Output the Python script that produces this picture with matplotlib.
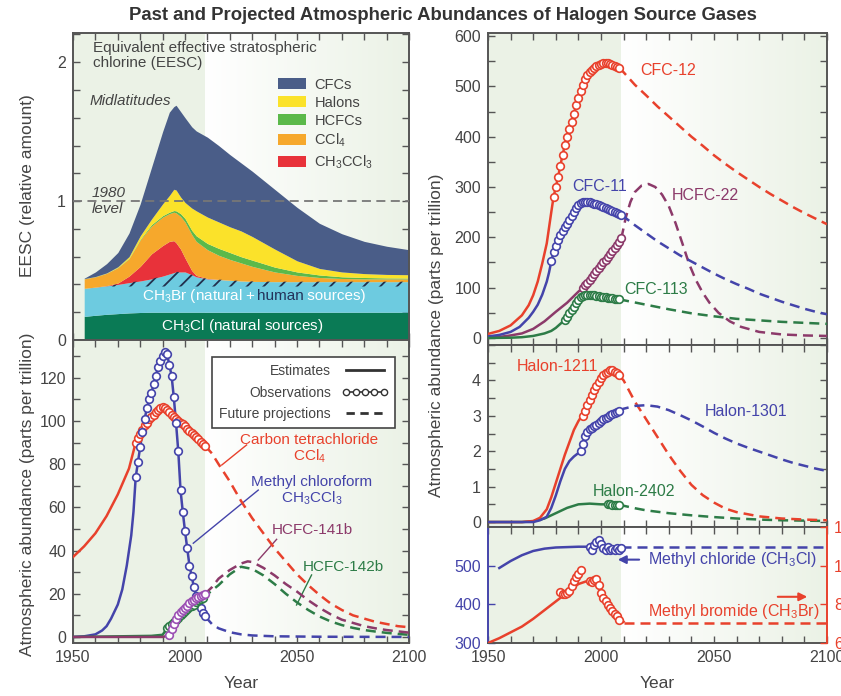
import numpy as np
import matplotlib
matplotlib.use("Agg")
import matplotlib.pyplot as plt
from matplotlib.lines import Line2D
from matplotlib.patches import Patch
from matplotlib.ticker import MultipleLocator
from matplotlib.colors import to_rgb

plt.rcParams['font.family'] = ['Liberation Sans', 'DejaVu Sans']
plt.rcParams['mathtext.default'] = 'regular'
plt.rcParams['hatch.linewidth'] = 1.3

RED = '#e8412c'
BLUE = '#4444aa'
MAROON = '#8c3a6a'
PURPLE = '#9c50b4'
GREEN = '#2d7c47'
AXC = '#555555'
TXT = '#444444'
PAST = '#ebf2e6'
DASH = (0, (4, 2.4))

# ---------------- EESC (cumulative tops of each layer) ----------------
eesc_years = [1955, 1960, 1965, 1970, 1975, 1980, 1985, 1990, 1993, 1995, 1996, 1998, 2000,
              2003, 2005, 2010, 2015, 2020, 2025, 2030, 2040, 2050, 2060, 2070, 2080, 2090, 2100]
ch3cl_top = [0.170, 0.178, 0.185, 0.190, 0.195, 0.198, 0.200, 0.200, 0.200, 0.200, 0.200, 0.200, 0.200,
             0.200, 0.200, 0.200, 0.200, 0.200, 0.200, 0.200, 0.200, 0.200, 0.200, 0.200, 0.200, 0.200, 0.200]
ch3br_natural = 0.385
ch3br_top = [0.372, 0.380, 0.390, 0.400, 0.413, 0.425, 0.440, 0.460, 0.475, 0.485, 0.490, 0.490, 0.490,
             0.470, 0.455, 0.440, 0.435, 0.430, 0.425, 0.422, 0.420, 0.420, 0.420, 0.420, 0.420, 0.420, 0.420]
ch3ccl3_top = [0.372, 0.381, 0.392, 0.410, 0.460, 0.530, 0.620, 0.680, 0.710, 0.715, 0.700, 0.655, 0.590,
               0.500, 0.465, 0.443, 0.436, 0.430, 0.425, 0.422, 0.420, 0.420, 0.420, 0.420, 0.420, 0.420, 0.420]
ccl4_top = [0.440, 0.455, 0.480, 0.520, 0.585, 0.720, 0.820, 0.885, 0.910, 0.920, 0.915, 0.890, 0.850,
            0.760, 0.710, 0.650, 0.610, 0.580, 0.555, 0.530, 0.490, 0.465, 0.450, 0.443, 0.440, 0.440, 0.440]
hcfc_top = [0.441, 0.456, 0.481, 0.522, 0.588, 0.725, 0.830, 0.895, 0.920, 0.932, 0.930, 0.910, 0.875,
            0.790, 0.750, 0.695, 0.660, 0.630, 0.600, 0.575, 0.525, 0.490, 0.468, 0.455, 0.450, 0.447, 0.446]
halon_top = [0.442, 0.457, 0.483, 0.527, 0.600, 0.750, 0.870, 0.980, 1.040, 1.085, 1.080, 1.030, 0.990,
             0.950, 0.930, 0.885, 0.850, 0.815, 0.785, 0.745, 0.655, 0.570, 0.515, 0.490, 0.478, 0.472, 0.470]
cfc_top = [0.445, 0.490, 0.550, 0.630, 0.770, 0.980, 1.240, 1.500, 1.640, 1.680, 1.690, 1.645, 1.600,
           1.535, 1.505, 1.460, 1.400, 1.335, 1.275, 1.215, 1.085, 0.955, 0.840, 0.765, 0.710, 0.675, 0.650]

# ---------------- chlorine gases (ppt) ----------------
ccl4_est_yr = [1950, 1955, 1960, 1965, 1970, 1975, 1978]
ccl4_est = [37, 42, 48, 56, 66, 78, 90]
ccl4_obs_start = 1978
ccl4_obs = [90, 92, 94, 96, 98, 99, 101, 102, 103, 104, 105, 106, 106.5, 106, 105, 104, 103, 102,
            101, 100, 99, 98.5, 97.5, 96.5, 95.5, 94.5, 93.5, 92.5, 91.5, 90.5, 89.5, 88.5]
ccl4_proj_yr = [2009, 2012, 2015, 2020, 2025, 2030, 2035, 2040, 2045, 2050, 2055, 2060, 2065, 2070,
                2075, 2080, 2085, 2090, 2095, 2100]
ccl4_proj = [88.5, 85, 80, 72, 63, 55, 48, 41, 35, 29, 24, 19.5, 15.5, 12.5, 10, 8.5, 7, 6, 5, 4.5]

mcf_est_yr = [1950, 1955, 1960, 1963, 1965, 1967, 1970, 1972, 1974, 1976, 1977]
mcf_est = [0, 0.3, 1.2, 3, 5, 8.5, 15, 22, 33, 47, 58]
mcf_obs_start = 1978
mcf_obs = [74, 81, 88, 95, 101, 106, 110, 113, 117, 121, 125, 128, 130, 132, 131, 126, 121, 111,
           99, 86, 68, 58, 49, 41, 33, 28, 23, 19, 16, 13.5, 11, 9.5]
mcf_proj_yr = [2009, 2012, 2015, 2020, 2025, 2030, 2040, 2060, 2100]
mcf_proj = [9.5, 6, 4, 2.2, 1.2, 0.7, 0.3, 0.1, 0]

h141b_est_yr = [1950, 1990, 1992]
h141b_est = [0, 0, 0.5]
h141b_obs_start = 1993
h141b_obs = [1, 3.5, 6, 8.5, 10, 11.5, 12.5, 13.5, 14.5, 15.5, 16.5, 17, 18, 18.5, 19, 19.5, 20]
h141b_proj_yr = [2009, 2012, 2015, 2020, 2025, 2028, 2030, 2035, 2040, 2045, 2050, 2055, 2060, 2065,
                 2070, 2075, 2080, 2085, 2090, 2095, 2100]
h141b_proj = [20, 23, 27, 31, 34, 35, 34.7, 32, 28.5, 24.5, 21, 17, 13.5, 10.5, 8, 6.5, 5, 4, 3.2,
              2.6, 2]

h142b_est_yr = [1950, 1985, 1990, 1991]
h142b_est = [0, 0.5, 1, 2.5]
h142b_obs_start = 1992
h142b_obs = [4, 5, 6, 7, 8, 9, 10, 11, 12, 13, 14, 14.5, 15, 16, 17, 17.5, 18]
h142b_proj_yr = [2008, 2012, 2015, 2020, 2025, 2030, 2035, 2040, 2045, 2050, 2055, 2060, 2065, 2070,
                 2075, 2080, 2085, 2090, 2095, 2100]
h142b_proj = [18, 21.5, 24, 29, 32.5, 31.5, 28.5, 24.5, 20, 16, 12.5, 9.5, 7.2, 5.5, 4.2, 3.2, 2.5,
              1.9, 1.4, 1]

# ---------------- CFCs and HCFC-22 (ppt) ----------------
cfc12_est_yr = [1950, 1955, 1960, 1965, 1968, 1970, 1972, 1974, 1976, 1978]
cfc12_est = [8, 14, 25, 45, 65, 85, 112, 148, 188, 250]
cfc12_obs_start = 1979
cfc12_obs = [280, 300, 320, 342, 364, 383, 400, 415, 430, 446, 462, 476, 490, 503, 515, 523, 529,
             533, 536, 540, 543, 545, 546, 546, 546, 545, 543, 541, 539, 537]
cfc12_proj_yr = [2008, 2010, 2015, 2020, 2025, 2030, 2035, 2040, 2045, 2050, 2055, 2060, 2065, 2070,
                 2075, 2080, 2085, 2090, 2095, 2100]
cfc12_proj = [537, 528, 503, 482, 460, 440, 420, 400, 382, 363, 346, 330, 315, 300, 286, 273, 260,
              248, 237, 226]

cfc11_est_yr = [1950, 1955, 1960, 1964, 1968, 1970, 1972, 1974, 1976, 1977]
cfc11_est = [3, 6, 12, 22, 40, 52, 66, 86, 112, 130]
cfc11_obs_start = 1978
cfc11_obs = [152, 170, 183, 194, 204, 212, 220, 227, 235, 243, 250, 258, 264, 268, 270, 271, 271,
             270, 269, 267, 266, 264, 262, 261, 259, 257, 255, 253, 251, 249, 247, 245]
cfc11_proj_yr = [2009, 2015, 2020, 2025, 2030, 2035, 2040, 2045, 2050, 2055, 2060, 2065, 2070, 2075,
                 2080, 2085, 2090, 2095, 2100]
cfc11_proj = [245, 224, 208, 192, 178, 164, 152, 140, 128, 117, 107, 98, 88, 80, 72, 65, 58, 52, 47]

hcfc22_est_yr = [1950, 1955, 1960, 1965, 1970, 1975, 1980, 1985, 1990, 1991]
hcfc22_est = [0, 2, 5, 9, 18, 33, 52, 70, 92, 96]
hcfc22_obs_start = 1992
hcfc22_obs = [100, 105, 110, 116, 122, 128, 134, 140, 145, 150, 155, 160, 166, 172, 178, 185, 191, 198]
hcfc22_proj_yr = [2009, 2011, 2013, 2015, 2018, 2021, 2024, 2027, 2030, 2033, 2036, 2039, 2042, 2045,
                  2048, 2052, 2057, 2062, 2070, 2080, 2090, 2100]
hcfc22_proj = [198, 240, 270, 290, 303, 306, 300, 285, 262, 228, 188, 147, 115, 90, 70, 50, 33, 22,
               12, 7, 5, 4]

cfc113_est_yr = [1950, 1960, 1965, 1970, 1975, 1978, 1980, 1982, 1983]
cfc113_est = [0, 0.5, 1.5, 4, 9, 14, 20, 28, 32]
cfc113_obs_start = 1984
cfc113_obs = [36, 42, 49, 56, 62, 69, 76, 81, 84, 85.5, 86, 86, 85.5, 85, 84, 83, 82, 81, 80.5, 80,
              79, 78.5, 78, 77, 76.5]
cfc113_proj_yr = [2008, 2010, 2020, 2030, 2040, 2050, 2060, 2070, 2080, 2090, 2100]
cfc113_proj = [76.5, 75, 66, 57, 49, 43, 38, 35, 32, 30, 28]

# ---------------- halons (ppt) ----------------
h1211_est_yr = [1950, 1965, 1970, 1973, 1976, 1978, 1980, 1982, 1984, 1986, 1988, 1990, 1991]
h1211_est = [0, 0, 0.03, 0.12, 0.36, 0.7, 1.1, 1.5, 1.9, 2.25, 2.6, 2.85, 2.95]
h1211_obs_start = 1992
h1211_obs = [3.0, 3.15, 3.3, 3.45, 3.6, 3.73, 3.85, 3.96, 4.06, 4.14, 4.2, 4.25, 4.28, 4.28, 4.25,
             4.2, 4.14]
h1211_proj_yr = [2008, 2010, 2015, 2020, 2025, 2030, 2035, 2040, 2045, 2050, 2055, 2060, 2070, 2080,
                 2090, 2100]
h1211_proj = [4.14, 4.0, 3.4, 2.9, 2.4, 1.9, 1.45, 1.05, 0.76, 0.55, 0.38, 0.28, 0.16, 0.1, 0.07, 0.05]

h1301_est_yr = [1950, 1970, 1973, 1976, 1978, 1980, 1982, 1984, 1986, 1988, 1990]
h1301_est = [0, 0, 0.05, 0.15, 0.4, 0.75, 1.15, 1.5, 1.72, 1.85, 1.95]
h1301_obs_start = 1991
h1301_obs = [2.0, 2.2, 2.42, 2.55, 2.62, 2.66, 2.7, 2.74, 2.8, 2.86, 2.9, 2.95, 2.98, 3.02, 3.05,
             3.08, 3.12, 3.15]
h1301_proj_yr = [2008, 2010, 2015, 2020, 2025, 2030, 2035, 2040, 2045, 2050, 2055, 2060, 2065, 2070,
                 2075, 2080, 2085, 2090, 2095, 2100]
h1301_proj = [3.15, 3.2, 3.28, 3.3, 3.26, 3.16, 3.02, 2.87, 2.7, 2.52, 2.36, 2.22, 2.1, 1.99, 1.88,
              1.77, 1.67, 1.59, 1.51, 1.44]

h2402_est_yr = [1950, 1965, 1970, 1975, 1980, 1985, 1990, 1995, 2000, 2002]
h2402_est = [0, 0, 0.02, 0.1, 0.25, 0.4, 0.5, 0.52, 0.5, 0.5]
h2402_obs_start = 2003
h2402_obs = [0.5, 0.5, 0.49, 0.49, 0.48, 0.48]
h2402_proj_yr = [2008, 2010, 2015, 2020, 2030, 2040, 2050, 2060, 2070, 2080, 2090, 2100]
h2402_proj = [0.48, 0.46, 0.39, 0.33, 0.25, 0.19, 0.14, 0.1, 0.07, 0.05, 0.04, 0.03]

# ---------------- methyl chloride (ppt) and methyl bromide (ppt) ----------------
mecl_est_yr = [1955, 1960, 1965, 1970, 1975, 1980, 1990, 2009]
mecl_est = [494, 512, 527, 538, 544, 547, 549, 549]
mecl_obs_start = 1995
mecl_obs = [548, 540, 553, 560, 566, 556, 545, 540, 548, 541, 543, 540, 545, 541, 545]
mecl_proj_yr = [2009, 2100]
mecl_proj = [549, 549]

mebr_est_yr = [1950, 1955, 1960, 1965, 1970, 1975, 1980, 1985, 1990, 1995, 1997, 2000, 2005, 2010]
mebr_est = [6.0, 6.25, 6.55, 6.85, 7.25, 7.7, 8.15, 8.6, 9.05, 9.25, 9.25, 8.6, 7.7, 7.1]
mebr_obs1_start = 1982
mebr_obs1 = [8.65, 8.55, 8.55, 8.6, 8.7, 8.95, 9.2, 9.4, 9.55, 9.8]
mebr_obs2_start = 1995
mebr_obs2 = [9.2, 9.15, 9.25, 9.3, 9.0, 8.6, 8.35, 8.15, 7.95, 7.8, 7.65, 7.5, 7.4, 7.2]
mebr_proj_yr = [2010, 2100]
mebr_proj = [7.05, 7.05]


def obs_years(start, vals):
    return list(range(start, start + len(vals)))


def background(ax, y0, y1):
    # shaded past period, then a fade from white back to pale green
    ax.axvspan(1950, 2009, color=PAST, lw=0, zorder=0)
    g = np.linspace(0, 1, 256)[:, None]
    img = (1 - g) * np.array([1.0, 1.0, 1.0]) + g * np.array(to_rgb(PAST))
    ax.imshow(img[None, :, :], extent=[2009, 2100, y0, y1], aspect='auto',
              interpolation='bilinear', zorder=0)
    ax.set_xlim(1950, 2100)
    ax.set_ylim(y0, y1)


def style(ax, xlabels=False):
    for s in ax.spines.values():
        s.set_color(AXC)
        s.set_linewidth(1.4)
    ax.xaxis.set_major_locator(MultipleLocator(50))
    ax.xaxis.set_minor_locator(MultipleLocator(10))
    ax.tick_params(which='both', direction='in', top=True, right=True, length=5, width=1,
                   color=AXC, labelsize=11.5, labelcolor=TXT, pad=5)
    if xlabels:
        ax.set_xticks([1950, 2000, 2050, 2100])
        ax.set_xticklabels(['1950', '2000', '2050', '2100'])
        ax.set_xlabel('Year', fontsize=12.5, color=TXT, labelpad=8)
    else:
        ax.tick_params(labelbottom=False)


def gas(ax, est_yr, est, obs_start, obs, proj_yr, proj, color, obs_color=None):
    oy = obs_years(obs_start, obs)
    ax.plot(list(est_yr) + oy, list(est) + list(obs), color=color, lw=1.8, zorder=3)
    ax.plot(proj_yr, proj, color=color, lw=1.8, ls=DASH, zorder=3)
    ax.plot(oy, obs, 'o', ms=5.5, mfc='white', mec=obs_color or color, mew=1.2, zorder=4)


fig = plt.figure(figsize=(8.41, 6.96), dpi=100)
W, H = 841.0, 696.0


def px_axes(x0, y0, x1, y1):
    return fig.add_axes([x0 / W, 1 - y1 / H, (x1 - x0) / W, (y1 - y0) / H])


ax_eesc = px_axes(73, 33, 409, 340)
ax_cl = px_axes(73, 340, 409, 643)
ax_cfc = px_axes(488, 33, 827, 345)
ax_hal = px_axes(488, 345, 827, 527)
ax_me = px_axes(488, 527, 827, 643)

fig.text(443 / W, 1 - 15 / H, 'Past and Projected Atmospheric Abundances of Halogen Source Gases',
         ha='center', va='center', fontsize=13.3, fontweight='bold', color='#333333')

# ---------------- EESC stack ----------------
ax = ax_eesc
background(ax, 0, 2.21)
yrs = np.array(eesc_years)
layers = [
    (np.zeros(len(yrs)), ch3cl_top, '#0a7a55'),
    (ch3cl_top, ch3br_top, '#6dcbe0'),
    (ch3br_top, ch3ccl3_top, '#e8323a'),
    (ch3ccl3_top, ccl4_top, '#f6a82c'),
    (ccl4_top, hcfc_top, '#5bb94a'),
    (hcfc_top, halon_top, '#fbe22a'),
    (halon_top, cfc_top, '#4a5d88'),
]
for lo, hi, c in layers:
    ax.fill_between(yrs, lo, hi, color=c, lw=0, zorder=2)
top_br = np.array(ch3br_top)
ax.fill_between(yrs, ch3br_natural, top_br, where=top_br > ch3br_natural, interpolate=True,
                facecolor='none', edgecolor='#22304d', hatch='//', lw=0, zorder=2.5)
ax.axhline(1.0, color='#777777', lw=1.3, ls=(0, (5, 3)), zorder=3)

ax.set_yticks([0, 1, 2])
ax.set_yticklabels(['0', '1', '2'])
ax.yaxis.set_minor_locator(MultipleLocator(0.2))
style(ax)
ax.text(1958.9, 2.15, 'Equivalent effective stratospheric\nchlorine (EESC)', fontsize=11,
        color=TXT, va='top', ha='left', linespacing=1.1)
ax.text(1957.6, 1.72, 'Midlatitudes', fontsize=11, style='italic', color=TXT, va='center')
ax.text(1958.5, 1.0, '1980\nlevel', fontsize=11, style='italic', color=TXT, va='center',
        linespacing=1.25)
eesc_labels = ['CFCs', 'Halons', 'HCFCs', 'CCl$_4$', 'CH$_3$CCl$_3$']
eesc_colors = ['#4a5d88', '#fbe22a', '#5bb94a', '#f6a82c', '#e8323a']
leg = ax.legend([Patch(facecolor=c, edgecolor='none') for c in eesc_colors], eesc_labels,
                loc='upper left', bbox_to_anchor=(0.61, 0.855), frameon=False, fontsize=10.5,
                handlelength=1.9, handleheight=0.75, handletextpad=0.6, labelspacing=0.28,
                borderpad=0, borderaxespad=0)
for t in leg.get_texts():
    t.set_color(TXT)

# CH3Br label, with "human" picked out in dark blue
fig.canvas.draw()
rend = fig.canvas.get_renderer()
x_pos = 1980.7
pieces = [('CH$_3$Br (natural + ', 'white'), ('human', '#23325a'), (' sources)', 'white')]
for s, c in pieces:
    t = ax.text(x_pos, 0.29, s, color=c, fontsize=11, va='baseline', ha='left', zorder=5)
    bb = t.get_window_extent(rend)
    x_pos = ax.transData.inverted().transform((bb.x1, bb.y0))[0]
ax.text(2025.4, 0.10, 'CH$_3$Cl (natural sources)', color='white', fontsize=11, ha='center',
        va='center', zorder=5)

# ---------------- chlorine gases ----------------
ax = ax_cl
background(ax, -2.8, 137.5)
gas(ax, ccl4_est_yr, ccl4_est, ccl4_obs_start, ccl4_obs, ccl4_proj_yr, ccl4_proj, RED)
gas(ax, mcf_est_yr, mcf_est, mcf_obs_start, mcf_obs, mcf_proj_yr, mcf_proj, BLUE)
gas(ax, h142b_est_yr, h142b_est, h142b_obs_start, h142b_obs, h142b_proj_yr, h142b_proj, GREEN)
gas(ax, h141b_est_yr, h141b_est, h141b_obs_start, h141b_obs, h141b_proj_yr, h141b_proj, MAROON,
    obs_color=PURPLE)
ax.yaxis.set_major_locator(MultipleLocator(20))
ax.yaxis.set_minor_locator(MultipleLocator(10))
style(ax, xlabels=True)

ax.text(2055.4, 87, 'Carbon tetrachloride\nCCl$_4$', color=RED, fontsize=11, ha='center',
        va='center', linespacing=1.05)
ax.plot([2027.5, 2016.4], [88.9, 79.6], color=RED, lw=1)
ax.text(2056.7, 67.6, 'Methyl chloroform\nCH$_3$CCl$_3$', color=BLUE, fontsize=11, ha='center',
        va='center', linespacing=1.05)
ax.plot([2032.7, 2003.7], [68, 43.4], color=BLUE, lw=1)
ax.text(2057, 49.5, 'HCFC-141b', color=MAROON, fontsize=11, ha='center', va='center')
ax.plot([2040.9, 2032.7], [45.2, 35.6], color=MAROON, lw=1)
ax.text(2070.5, 32.4, 'HCFC-142b', color=GREEN, fontsize=11, ha='center', va='center')
ax.plot([2056.5, 2049.8], [28.7, 14.8], color=GREEN, lw=1)

handles = [Line2D([], [], color='#333333', lw=2),
           Line2D([], [], color='#333333', lw=1.2, marker='o', ms=4.5, mfc='white', mec='#333333'),
           Line2D([], [], color='#333333', lw=2, ls=(0, (3, 2)))]
leg = ax.legend(handles, ['Estimates', 'Observations', 'Future projections'], loc='upper right',
                bbox_to_anchor=(0.958, 0.944), markerfirst=False, numpoints=5, handlelength=3.3,
                fontsize=10, frameon=True, fancybox=False, edgecolor='#444444', framealpha=1,
                facecolor='white', borderpad=0.5, labelspacing=0.55, borderaxespad=0)
leg.get_frame().set_linewidth(1.2)
for t in leg.get_texts():
    t.set_color(TXT)

# ---------------- CFCs ----------------
ax = ax_cfc
background(ax, -14, 606)
gas(ax, cfc12_est_yr, cfc12_est, cfc12_obs_start, cfc12_obs, cfc12_proj_yr, cfc12_proj, RED)
gas(ax, hcfc22_est_yr, hcfc22_est, hcfc22_obs_start, hcfc22_obs, hcfc22_proj_yr, hcfc22_proj,
    MAROON)
gas(ax, cfc11_est_yr, cfc11_est, cfc11_obs_start, cfc11_obs, cfc11_proj_yr, cfc11_proj, BLUE)
gas(ax, cfc113_est_yr, cfc113_est, cfc113_obs_start, cfc113_obs, cfc113_proj_yr, cfc113_proj,
    GREEN)
ax.yaxis.set_major_locator(MultipleLocator(100))
ax.yaxis.set_minor_locator(MultipleLocator(50))
style(ax)
ax.text(2017.3, 531, 'CFC-12', color=RED, fontsize=11.5, va='center')
ax.text(1987.2, 300, 'CFC-11', color=BLUE, fontsize=11.5, va='center')
ax.text(2031.4, 284, 'HCFC-22', color=MAROON, fontsize=11.5, va='center')
ax.text(2010.2, 97, 'CFC-113', color=GREEN, fontsize=11.5, va='center')

# ---------------- halons ----------------
ax = ax_hal
background(ax, -0.14, 5.0)
gas(ax, h2402_est_yr, h2402_est, h2402_obs_start, h2402_obs, h2402_proj_yr, h2402_proj, GREEN)
gas(ax, h1211_est_yr, h1211_est, h1211_obs_start, h1211_obs, h1211_proj_yr, h1211_proj, RED)
gas(ax, h1301_est_yr, h1301_est, h1301_obs_start, h1301_obs, h1301_proj_yr, h1301_proj, BLUE)
ax.set_yticks([0, 1, 2, 3, 4])
ax.yaxis.set_minor_locator(MultipleLocator(0.5))
style(ax)
ax.text(1962.8, 4.39, 'Halon-1211', color=RED, fontsize=11.5, va='center')
ax.text(2046, 3.13, 'Halon-1301', color=BLUE, fontsize=11.5, va='center')
ax.text(1996.5, 0.87, 'Halon-2402', color=GREEN, fontsize=11.5, va='center')

# ---------------- methyl chloride / methyl bromide ----------------
ax = ax_me
background(ax, 300, 600)
ax2 = ax.twinx()
ax2.set_ylim(6, 12)
ax.plot(mecl_est_yr, mecl_est, color=BLUE, lw=1.8, zorder=3)
ax.plot(mecl_proj_yr, mecl_proj, color=BLUE, lw=1.8, ls=DASH, zorder=3)
ax.plot(obs_years(mecl_obs_start, mecl_obs), mecl_obs, 'o', ms=5.5, mfc='white', mec=BLUE,
        mew=1.2, zorder=4)
ax2.plot(mebr_est_yr, mebr_est, color=RED, lw=1.8, zorder=3)
ax2.plot(mebr_proj_yr, mebr_proj, color=RED, lw=1.8, ls=DASH, zorder=3)
for st, vals in [(mebr_obs1_start, mebr_obs1), (mebr_obs2_start, mebr_obs2)]:
    ax2.plot(obs_years(st, vals), vals, 'o', ms=5.5, mfc='white', mec=RED, mew=1.2, zorder=4)
style(ax, xlabels=True)
ax.set_yticks([300, 400, 500])
ax.tick_params(axis='y', which='both', right=False, colors=BLUE, labelcolor=BLUE)
ax.spines['left'].set_color(BLUE)
ax.spines['right'].set_visible(False)
ax2.set_yticks([6, 8, 10, 12])
ax2.tick_params(axis='y', direction='in', length=5, width=1, colors=RED, labelcolor=RED,
                labelsize=11.5, pad=5)
for s in ['left', 'top', 'bottom']:
    ax2.spines[s].set_visible(False)
ax2.spines['right'].set_color(RED)
ax2.spines['right'].set_linewidth(1.4)
ax.text(2020.8, 515.6, 'Methyl chloride (CH$_3$Cl)', color=BLUE, fontsize=11.5, va='center')
ax.annotate('', xy=(2006.2, 515.6), xytext=(2018.1, 515.6),
            arrowprops=dict(arrowstyle='-|>', color=BLUE, lw=1.5, mutation_scale=12))
ax.text(2020.8, 380.5, 'Methyl bromide (CH$_3$Br)', color=RED, fontsize=11.5, va='center')
ax.annotate('', xy=(2092.5, 419.5), xytext=(2077, 419.5),
            arrowprops=dict(arrowstyle='-|>', color=RED, lw=1.5, mutation_scale=12))

fig.text(28 / W, 1 - 186 / H, 'EESC (relative amount)', rotation=90, ha='center', va='center',
         fontsize=12.5, color=TXT)
fig.text(28 / W, 1 - 494 / H, 'Atmospheric abundance (parts per trillion)', rotation=90,
         ha='center', va='center', fontsize=12.5, color=TXT)
fig.text(437 / W, 1 - 335 / H, 'Atmospheric abundance (parts per trillion)', rotation=90,
         ha='center', va='center', fontsize=12.5, color=TXT)

fig.savefig('out.png', dpi=100)
